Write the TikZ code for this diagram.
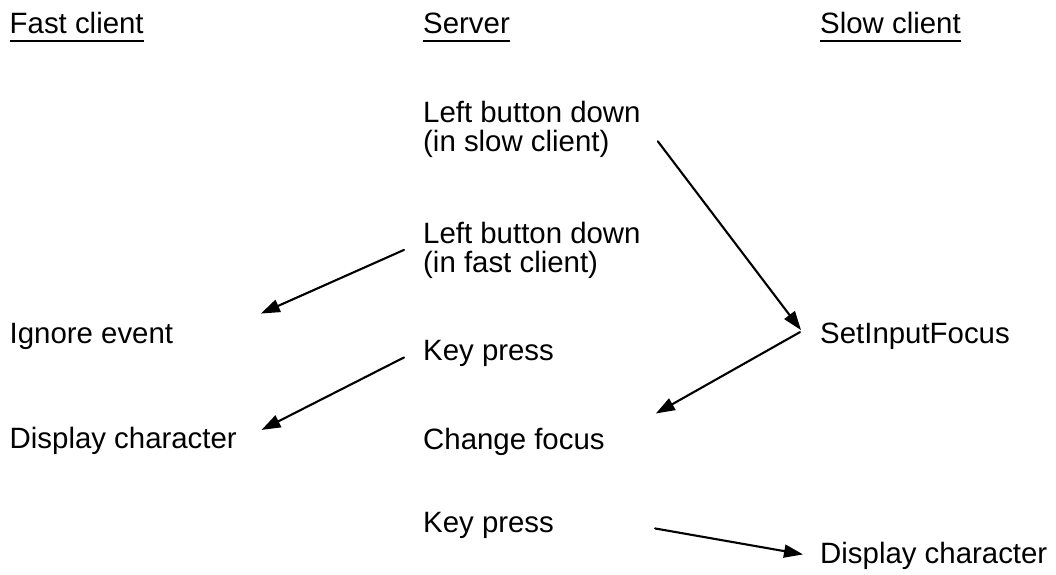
\documentclass[tikz,border=0pt]{standalone}
\usepackage{fontspec}
\setmainfont{Liberation Sans}
\usetikzlibrary{arrows.meta}

\begin{document}
\begin{tikzpicture}[line cap=round,line join=round,x=1pt,y=-1pt,
	lbl/.style={anchor=base west,inner sep=0pt,align=left,font=\fontsize{29.4}{29}\selectfont},
	evarrow/.style={line width=2.1pt,-{Triangle[length=19pt,width=13pt]}},
	underl/.style={line width=2.8pt,line cap=butt}]
	\useasboundingbox (0,0) rectangle (1056,574);
	% column heads
	\node[lbl] (fast) at (9.5,33) {Fast client};
	\node[lbl] (server) at (423,33) {Server};
	\node[lbl] (slow) at (820,33) {Slow client};
	\draw [underl] ([yshift=-8pt]fast.base west) -- ([yshift=-8pt]fast.base east);
	\draw [underl] ([yshift=-8pt]server.base west) -- ([yshift=-8pt]server.base east);
	\draw [underl] ([yshift=-8pt]slow.base west) -- ([yshift=-8pt]slow.base east);
	% events (two-line nodes sit on the last line)
	\node[lbl] (lbslow) at (423,151) {Left button down\\(in slow client)};
	\node[lbl] (lbfast) at (423,272) {Left button down\\(in fast client)};
	\node[lbl] (ignore) at (9.5,343) {Ignore event};
	\node[lbl] (keyone) at (423,360) {Key press};
	\node[lbl] (setfocus) at (820,343) {SetInputFocus};
	\node[lbl] (dispfast) at (9.5,448) {Display character};
	\node[lbl] (change) at (423,449) {Change focus};
	\node[lbl] (keytwo) at (423,532) {Key press};
	\node[lbl] (dispslow) at (820,563) {Display character};
	% messages
	\draw [evarrow] ([shift={(17,-16)}]lbslow.south east) -- ([shift={(-19,-5.7)}]setfocus.west);
	\draw [evarrow] ([shift={(-20,-3.7)}]setfocus.west) -- ([shift={(51,-14)}]change.north east);
	\draw [evarrow] ([shift={(-19,0)}]lbfast.west) -- ([shift={(87.5,-9)}]ignore.north east);
	\draw [evarrow] ([shift={(-19,4.5)}]keyone.west) -- ([shift={(24.5,-10.5)}]dispfast.east);
	\draw [evarrow] ([shift={(101,3.5)}]keytwo.east) -- ([shift={(-17,-1)}]dispslow.west);
\end{tikzpicture}
\end{document}
